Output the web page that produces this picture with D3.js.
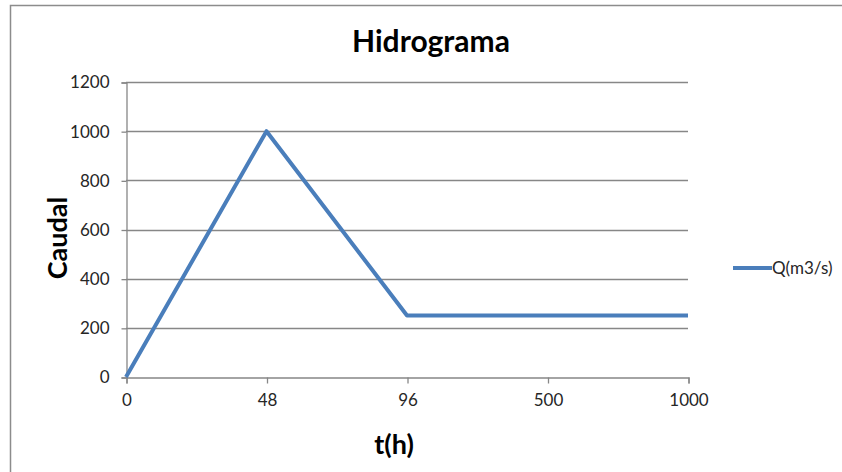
<!DOCTYPE html>
<html>
<head>
<meta charset="utf-8">
<script src="https://cdn.jsdelivr.net/npm/d3@7"></script>
<style>
  html, body { margin: 0; padding: 0; background: #fff; overflow: hidden; }
  svg { display: block; font-family: Lato, "Open Sans", sans-serif; }
</style>
</head>
<body>
<svg id="chart" width="842" height="472"></svg>
<script>
// Hydrograph: discharge over time (category axis of hours)
const hours = ["0", "48", "96", "500", "1000"];
const discharge = [0, 1000, 250, 250, 250];
const yTicks = [0, 200, 400, 600, 800, 1000, 1200];
const seriesName = "Q(m3/s)";
const chartTitle = "Hidrograma";
const xTitle = "t(h)";
const yTitle = "Caudal";

const svg = d3.select("#chart");
const W = 842, H = 472;
const plot = { left: 126, right: 688, top: 82, bottom: 377 };
const gridColor = "#878787";
const lineColor = "#4a7ebb";
const labelSize = 17;

// outer chart frame (top and left edges fall inside the view)
svg.append("path")
  .attr("d", `M10.5,${H} L10.5,5.5 L${W},5.5`)
  .attr("fill", "none").attr("stroke", "#8c8c8c").attr("stroke-width", 1.5);

const x = d3.scalePoint().domain(hours).range([plot.left, plot.right]).padding(0);
const y = d3.scaleLinear().domain([0, 1200]).range([plot.bottom, plot.top]);

// horizontal gridlines
svg.append("g")
  .selectAll("line")
  .data(yTicks.filter(v => v > 0))
  .join("line")
  .attr("x1", plot.left).attr("x2", plot.right)
  .attr("y1", d => Math.round(y(d)) + 0.5).attr("y2", d => Math.round(y(d)) + 0.5)
  .attr("stroke", gridColor).attr("stroke-width", 1.3);

// y axis
const yAxis = svg.append("g")
  .attr("transform", `translate(${plot.left + 0.5},0.5)`)
  .call(d3.axisLeft(y).tickValues(yTicks).tickSize(5).tickPadding(12).tickFormat(d3.format("d")));
yAxis.select(".domain").attr("stroke", gridColor).attr("stroke-width", 1.3);
yAxis.selectAll(".tick line").attr("stroke", gridColor).attr("stroke-width", 1.3);
yAxis.selectAll(".tick text")
  .attr("font-size", labelSize).attr("fill", "#262626").attr("font-family", "Lato, sans-serif");

// x axis
const xAxis = svg.append("g")
  .attr("transform", `translate(0.5,${plot.bottom + 0.5})`)
  .call(d3.axisBottom(x).tickSize(6).tickPadding(10));
xAxis.select(".domain").attr("stroke", gridColor).attr("stroke-width", 1.3);
xAxis.selectAll(".tick line").attr("stroke", gridColor).attr("stroke-width", 1.3);
xAxis.selectAll(".tick text")
  .attr("font-size", labelSize).attr("fill", "#262626").attr("font-family", "Lato, sans-serif");

// series line
const data = hours.map((h, i) => ({ h, q: discharge[i] }));
svg.append("path")
  .datum(data)
  .attr("fill", "none")
  .attr("stroke", lineColor)
  .attr("stroke-width", 4)
  .attr("stroke-linejoin", "round")
  .attr("d", d3.line().x(d => x(d.h)).y(d => y(d.q)));

// titles
svg.append("text")
  .attr("x", 431).attr("y", 52)
  .attr("text-anchor", "middle")
  .attr("font-size", 30).attr("font-weight", "bold").attr("fill", "#000")
  .text(chartTitle);

svg.append("text")
  .attr("x", 394).attr("y", 454)
  .attr("text-anchor", "middle")
  .attr("font-size", 27).attr("font-weight", "bold").attr("fill", "#000")
  .text(xTitle);

svg.append("text")
  .attr("transform", "translate(67,238) rotate(-90)")
  .attr("text-anchor", "middle")
  .attr("font-size", 27).attr("font-weight", "bold").attr("fill", "#000")
  .text(yTitle);

// legend
const legend = svg.append("g").attr("transform", "translate(733,268)");
legend.append("line")
  .attr("x1", 0).attr("x2", 39).attr("y1", 0).attr("y2", 0)
  .attr("stroke", lineColor).attr("stroke-width", 4);
legend.append("text")
  .attr("x", 39).attr("y", 0).attr("dy", "0.35em")
  .attr("font-size", labelSize).attr("fill", "#262626")
  .text(seriesName);
</script>
</body>
</html>
